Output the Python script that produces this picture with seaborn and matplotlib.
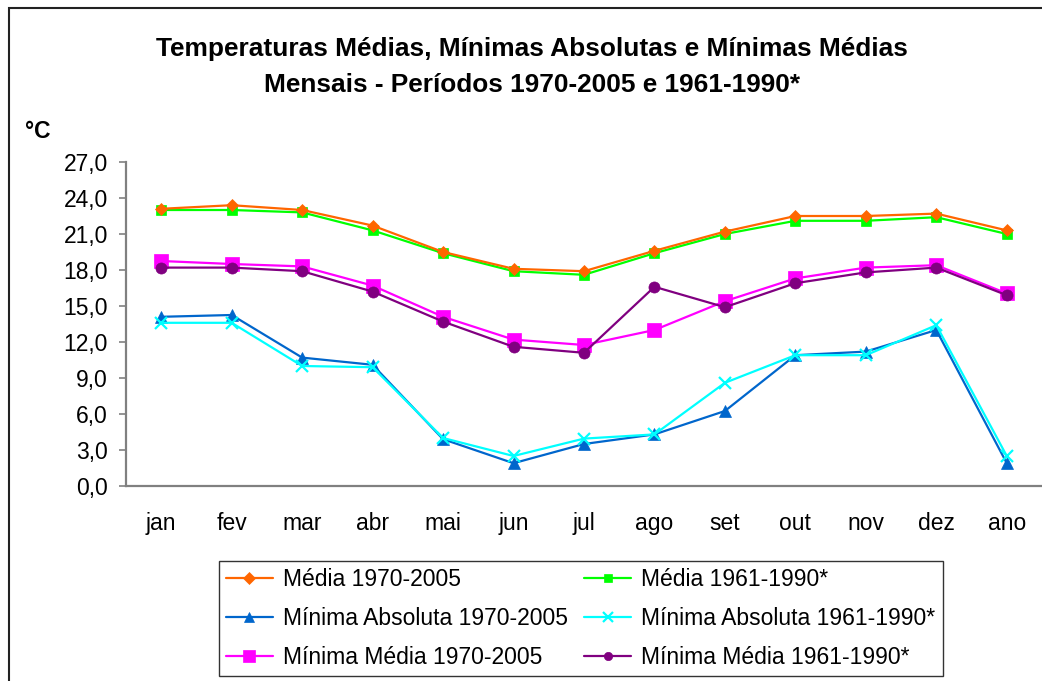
import matplotlib
matplotlib.use('Agg')
import matplotlib.pyplot as plt
from matplotlib.patches import Rectangle
import numpy as np
import seaborn as sns

# meses e valores (°C)
meses = ["jan", "fev", "mar", "abr", "mai", "jun", "jul", "ago", "set", "out", "nov", "dez", "ano"]

media_70 = [23.1, 23.4, 23.0, 21.7, 19.5, 18.1, 17.9, 19.6, 21.2, 22.5, 22.5, 22.7, 21.3]
media_61 = [23.0, 23.0, 22.8, 21.3, 19.4, 17.9, 17.6, 19.4, 21.0, 22.1, 22.1, 22.4, 21.0]
min_abs_70 = [14.1, 14.25, 10.7, 10.1, 3.9, 1.9, 3.5, 4.3, 6.25, 10.9, 11.2, 13.0, 1.9]
min_abs_61 = [13.6, 13.6, 10.0, 9.9, 4.0, 2.5, 3.95, 4.3, 8.6, 10.9, 10.9, 13.4, 2.5]
min_med_70 = [18.75, 18.5, 18.3, 16.7, 14.1, 12.2, 11.75, 13.0, 15.4, 17.3, 18.2, 18.4, 16.05]
min_med_61 = [18.2, 18.2, 17.9, 16.2, 13.7, 11.6, 11.1, 16.6, 14.9, 16.9, 17.8, 18.2, 15.9]

rotulos = ["Média 1970-2005", "Mínima Absoluta 1970-2005", "Mínima Média 1970-2005",
           "Média 1961-1990*", "Mínima Absoluta 1961-1990*", "Mínima Média 1961-1990*"]

sns.set_style("white")
plt.rcParams['font.family'] = ['Liberation Sans', 'DejaVu Sans']
plt.rcParams['text.color'] = 'black'
plt.rcParams['xtick.labelcolor'] = 'black'
plt.rcParams['ytick.labelcolor'] = 'black'

fig = plt.figure(figsize=(10.42, 6.81), dpi=100)
ax = fig.add_axes([126 / 1042, 195 / 681, 916 / 1042, 324 / 681])

# estilo de cada série: (valores, cor, marcador, tamanho, tamanho na legenda)
series = [
    (media_70, "#FF6600", "D", 6.5, 6),
    (min_abs_70, "#0066CC", "^", 8, 7),
    (min_med_70, "#FF00FF", "s", 9.5, 8),
    (media_61, "#00FF00", "s", 7.5, 5.5),
    (min_abs_61, "#00FFFF", "x", 8, 7),
    (min_med_61, "#800080", "o", 8, 6),
]
ordem_z = [6, 4, 3, 5, 5, 4]

x = np.arange(len(meses))
handles = []
for (vals, cor, mk, ms, _), lab, z in zip(series, rotulos, ordem_z):
    sns.lineplot(x=x, y=vals, ax=ax, color=cor, marker=mk, markersize=ms,
                 markeredgecolor=cor, markeredgewidth=1.6 if mk == "x" else 0.5,
                 linewidth=1.6, label=lab, zorder=z, legend=False)
    handles.append(ax.lines[-1])

ax.set_xlim(-0.5, len(meses) - 0.5)
ax.set_ylim(0, 27)
ax.set_yticks(np.arange(0, 27.1, 3))
ax.set_yticklabels([f"{v:.1f}".replace(".", ",") for v in np.arange(0, 27.1, 3)])
ax.set_xticks(x)
ax.set_xticklabels(meses)
ax.set_xticks(np.arange(-0.5, len(meses), 1), minor=True)
ax.tick_params(axis='x', which='major', length=0, pad=19, labelsize=16.5, labelcolor='black')
ax.tick_params(axis='x', which='minor', length=5, width=1.2, color='#808080', direction='out')
ax.tick_params(axis='y', length=5, width=1.2, color='#808080', pad=8, labelsize=16.5,
               direction='out', left=True, labelcolor='black')
for s in ['top', 'right']:
    ax.spines[s].set_visible(False)
for s in ['left', 'bottom']:
    ax.spines[s].set_color('#808080')
    ax.spines[s].set_linewidth(1.6)
ax.set_xlabel("")
ax.set_ylabel("")

# título e unidade
fig.text(532 / 1042, (681 - 67) / 681,
         "Temperaturas Médias, Mínimas Absolutas e Mínimas Médias\nMensais - Períodos 1970-2005 e 1961-1990*",
         ha='center', va='center', fontsize=18.9, fontweight='bold', linespacing=1.6, color='black')
fig.text(25 / 1042, (681 - 131) / 681, "°C", ha='left', va='center', fontsize=16.5,
         fontweight='bold', color='black')

# legenda em duas colunas
leg = fig.legend(handles=handles, labels=rotulos, ncol=2, loc='upper left',
                 bbox_to_anchor=(219 / 1042, (681 - 561) / 681), borderaxespad=0,
                 fontsize=16.5, frameon=True, fancybox=False, borderpad=0.3,
                 handlelength=2.05, handletextpad=0.45, labelspacing=0.7, columnspacing=0.7)
leg.get_frame().set_edgecolor('black')
leg.get_frame().set_linewidth(1.0)
for t in leg.get_texts():
    t.set_color('black')
for h, s in zip(leg.legend_handles, series):
    h.set_markersize(s[4])

# moldura do gráfico (cortada à direita e em baixo)
fig.patches.append(Rectangle((9 / 1042, -0.1), 1.2, (681 - 8) / 681 + 0.1,
                             transform=fig.transFigure, fill=False,
                             edgecolor='#222222', linewidth=1.5))

fig.savefig("out.png", dpi=100)
plt.close('all')
